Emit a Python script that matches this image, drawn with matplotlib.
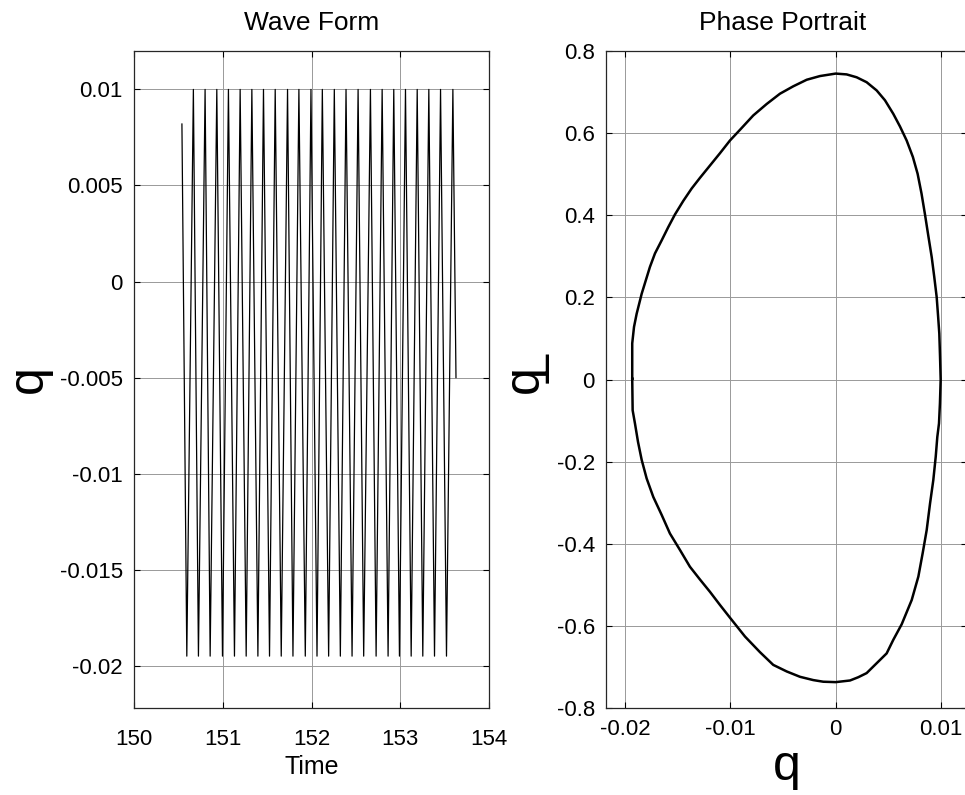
import numpy as np
import matplotlib
matplotlib.use('Agg')
import matplotlib.pyplot as plt

plt.rcParams['font.family'] = ['Liberation Sans', 'DejaVu Sans']

# wave form: times of the troughs and peaks
trough_t = [150.595, 150.726, 150.858, 150.997, 151.132, 151.264, 151.396, 151.527,
            151.659, 151.791, 151.930, 152.062, 152.193, 152.325, 152.457, 152.588,
            152.728, 152.863, 152.991, 153.123, 153.254, 153.386, 153.521]
peak_t = [150.669, 150.801, 150.933, 151.064, 151.196, 151.328, 151.459, 151.591,
          151.730, 151.858, 151.994, 152.122, 152.257, 152.389, 152.525, 152.664,
          152.796, 152.927, 153.059, 153.191, 153.322, 153.454, 153.593]
q_min = -0.0195
q_max = 0.0100
start_t, start_q = 150.540, 0.0082
end_t, end_q = 153.628, -0.0050

# phase portrait: (q, qdot) points along the closed orbit, clockwise
orbit_q = [-0.01932, -0.01932, -0.01915, -0.0189, -0.01842, -0.01764, -0.01716, -0.01652,
           -0.01590, -0.01526, -0.01447, -0.01368, -0.01289, -0.01194, -0.01099, -0.01004,
           -0.00909, -0.00783, -0.00655, -0.00529, -0.00403, -0.00275, -0.00149, 0.0,
           0.00104, 0.00199, 0.00294, 0.00389, 0.00468, 0.00547, 0.00611, 0.00674,
           0.00733, 0.00778, 0.00815, 0.00848, 0.00879, 0.00912, 0.00936, 0.00959,
           0.00972, 0.00984, 0.00991, 0.00997,
           0.00990, 0.00981, 0.00965, 0.0095, 0.00927, 0.00896, 0.00864, 0.00826,
           0.00785, 0.00722, 0.00627, 0.00547, 0.00484, 0.00389, 0.00294, 0.00215,
           0.00136, 0.0, -0.00118, -0.00213, -0.00339, -0.00465, -0.00593, -0.00719,
           -0.00861, -0.01004, -0.01099, -0.01194, -0.01289, -0.01384, -0.01479, -0.01574,
           -0.01652, -0.01732, -0.01795, -0.01842, -0.01877, -0.01906, -0.01928, -0.01932]
orbit_qd = [0.002, 0.088, 0.128, 0.160, 0.209, 0.274, 0.307, 0.339,
            0.371, 0.402, 0.435, 0.465, 0.491, 0.521, 0.551, 0.582,
            0.608, 0.643, 0.671, 0.696, 0.714, 0.730, 0.739, 0.745,
            0.743, 0.736, 0.724, 0.704, 0.680, 0.647, 0.616, 0.582,
            0.542, 0.501, 0.453, 0.402, 0.351, 0.298, 0.250, 0.201,
            0.156, 0.112, 0.055, 0.0,
            -0.058, -0.107, -0.140, -0.188, -0.245, -0.302, -0.367, -0.423,
            -0.480, -0.537, -0.596, -0.634, -0.667, -0.691, -0.715, -0.725,
            -0.733, -0.737, -0.736, -0.732, -0.724, -0.711, -0.695, -0.664,
            -0.626, -0.580, -0.549, -0.517, -0.487, -0.456, -0.415, -0.375,
            -0.330, -0.286, -0.241, -0.196, -0.152, -0.107, -0.075, 0.002]

wave_ticks_x = [150, 151, 152, 153, 154]
wave_ticks_y = [0.01, 0.005, 0, -0.005, -0.01, -0.015, -0.02]
wave_labels_y = ['0.01', '0.005', '0', '-0.005', '-0.01', '-0.015', '-0.02']
phase_ticks_x = [-0.02, -0.01, 0, 0.01]
phase_labels_x = ['-0.02', '-0.01', '0', '0.01']
phase_ticks_y = [0.8, 0.6, 0.4, 0.2, 0, -0.2, -0.4, -0.6, -0.8]
phase_labels_y = ['0.8', '0.6', '0.4', '0.2', '0', '-0.2', '-0.4', '-0.6', '-0.8']

n = len(trough_t)
t = np.concatenate([[start_t], np.column_stack([trough_t, peak_t]).ravel(), [end_t]])
q = np.concatenate([[start_q], np.column_stack([np.full(n, q_min), np.full(n, q_max)]).ravel(), [end_q]])

W, H = 965, 795
fig = plt.figure(figsize=(W / 100, H / 100), dpi=100)
ax1 = fig.add_axes([134 / W, 1 - 708 / H, 355 / W, 657 / H])
ax2 = fig.add_axes([606 / W, 1 - 708 / H, 361 / W, 657 / H])


def style(ax):
    ax.grid(True, color='0.6', linewidth=0.7)
    ax.set_axisbelow(True)
    ax.tick_params(direction='in', length=4, width=0.8, top=True, right=True,
                   labelsize=16, pad=8)
    for s in ax.spines.values():
        s.set_linewidth(0.9)
        s.set_color('0.15')


ax1.plot(t, q, color='k', linewidth=0.9)
ax1.set_xlim(150, 154)
ax1.set_ylim(-0.0222, 0.012)
ax1.set_xticks(wave_ticks_x)
ax1.set_yticks(wave_ticks_y)
ax1.set_yticklabels(wave_labels_y)
style(ax1)
ax1.tick_params(axis='x', pad=15)
ax1.set_title('Wave Form', fontsize=19, pad=15)
ax1.set_xlabel('Time', fontsize=18, labelpad=4)
ax1.set_ylabel('q', fontsize=36, labelpad=6)

ax2.plot(orbit_q, orbit_qd, color='k', linewidth=1.8)
ax2.set_xlim(-0.02181, 0.01247)
ax2.set_ylim(-0.8, 0.8)
ax2.set_xticks(phase_ticks_x)
ax2.set_xticklabels(phase_labels_x)
ax2.set_yticks(phase_ticks_y)
ax2.set_yticklabels(phase_labels_y)
style(ax2)
ax2.set_title('Phase Portrait', fontsize=19, pad=15, x=0.49)
ax2.set_xlabel('q', fontsize=36, labelpad=3)
ax2.set_ylabel('q\u0332', fontsize=36, labelpad=6)

fig.savefig('out.png', dpi=100)
